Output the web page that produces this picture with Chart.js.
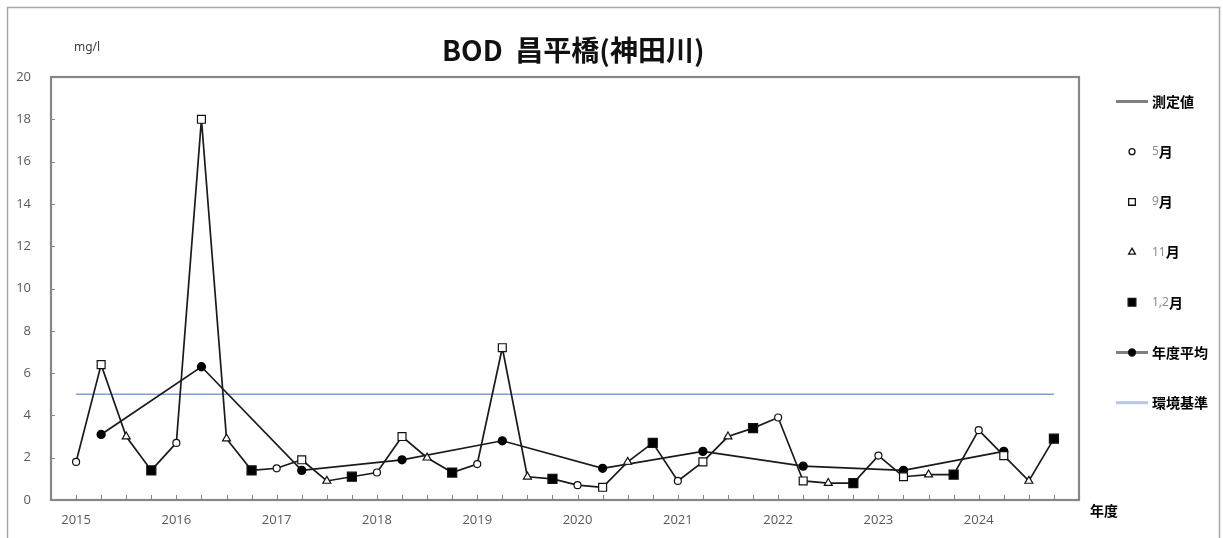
<!DOCTYPE html>
<html lang="ja">
<head>
<meta charset="utf-8">
<title>BOD 昌平橋(神田川)</title>
<script src="https://cdn.jsdelivr.net/npm/chart.js@4.4.1/dist/chart.umd.min.js"></script>
<style>
  html, body { margin: 0; padding: 0; background: #fff; }
  #chart { display: block; }
</style>
</head>
<body>
<canvas id="chart" width="1223" height="538"></canvas>
<script>
// BOD 昌平橋(神田川) - 季節ごとの測定値と年度平均

const years = ['2015', '2016', '2017', '2018', '2019', '2020', '2021', '2022', '2023', '2024'];
const seasonLabels = ['5月', '9月', '11月', '1,2月'];

// mg/l
const may    = [1.8, 2.7, 1.5, 1.3, 1.7, 0.7, 0.9, 3.9, 2.1, 3.3];
const sep    = [6.4, 18.0, 1.9, 3.0, 7.2, 0.6, 1.8, 0.9, 1.1, 2.1];
const nov    = [3.0, 2.9, 0.9, 2.0, 1.1, 1.8, 3.0, 0.8, 1.2, 0.9];
const janFeb = [1.4, 1.4, 1.1, 1.3, 1.0, 2.7, 3.4, 0.8, 1.2, 2.9];
const annualAvg = [3.1, 6.3, 1.4, 1.9, 2.8, 1.5, 2.3, 1.6, 1.4, 2.3];
const envStandard = 5;

const yTicks = [0, 2, 4, 6, 8, 10, 12, 14, 16, 18, 20];

// x = 年度 * 4 + 季節 (0:5月, 1:9月, 2:11月, 3:1,2月)
const seasons = [may, sep, nov, janFeb];
const measured = [];
years.forEach((yr, i) => {
    seasons.forEach((s, j) => measured.push({ x: i * 4 + j, y: s[i] }));
});
const seasonPoints = seasons.map((s, j) => s.map((v, i) => ({ x: i * 4 + j, y: v })));
const avgPoints = annualAvg.map((v, i) => ({ x: i * 4 + 1, y: v }));
const stdPoints = [
    { x: measured[0].x, y: envStandard },
    { x: measured[measured.length - 1].x, y: envStandard }
];

const LINE = '#1a1a1a';
const FRAME = '#868686';
const TICK_TEXT = '#595959';

function markerSet(label, data, style, radius, fill) {
    return {
        label: label,
        data: data,
        showLine: false,
        pointStyle: style,
        pointRadius: radius,
        pointHoverRadius: radius,
        pointBackgroundColor: fill,
        pointBorderColor: '#111',
        pointBorderWidth: 1.2,
        order: 0
    };
}

const datasets = [
    {
        label: '測定値',
        data: measured,
        borderColor: LINE,
        borderWidth: 1.7,
        pointRadius: 0,
        tension: 0,
        legendColor: '#808080',
        order: 1
    },
    markerSet(seasonLabels[0], seasonPoints[0], 'circle', 3.5, '#fff'),
    markerSet(seasonLabels[1], seasonPoints[1], 'rect', 5.6, '#fff'),
    markerSet(seasonLabels[2], seasonPoints[2], 'triangle', 4.6, '#fff'),
    markerSet(seasonLabels[3], seasonPoints[3], 'rect', 6.4, '#000'),
    {
        label: '年度平均',
        data: avgPoints,
        borderColor: LINE,
        borderWidth: 1.7,
        pointStyle: 'circle',
        pointRadius: 3.8,
        pointBackgroundColor: '#000',
        pointBorderColor: '#000',
        legendColor: '#808080',
        order: 0
    },
    {
        label: '環境基準',
        data: stdPoints,
        borderColor: '#7f9fd6',
        borderWidth: 1.5,
        pointRadius: 0,
        legendColor: '#b4c7e7',
        order: 2
    }
];

function drawMarker(ctx, style, x, y, r, fill) {
    ctx.save();
    ctx.fillStyle = fill;
    ctx.strokeStyle = '#111';
    ctx.lineWidth = 1.3;
    ctx.beginPath();
    if (style === 'rect') {
        const s = r * Math.SQRT1_2;
        ctx.rect(x - s, y - s, s * 2, s * 2);
    } else if (style === 'triangle') {
        for (let k = 0; k < 3; k++) {
            const a = k * 2 * Math.PI / 3;
            const px = x + Math.sin(a) * r, py = y - Math.cos(a) * r;
            if (k === 0) ctx.moveTo(px, py); else ctx.lineTo(px, py);
        }
        ctx.closePath();
    } else {
        ctx.arc(x, y, r, 0, Math.PI * 2);
    }
    ctx.fill();
    ctx.stroke();
    ctx.restore();
}

const decorations = {
    id: 'decorations',
    beforeDraw(chart) {
        const ctx = chart.ctx;
        ctx.save();
        ctx.fillStyle = '#fff';
        ctx.fillRect(0, 0, chart.width, chart.height);
        // outer frame
        ctx.strokeStyle = '#a6a6a6';
        ctx.lineWidth = 1.5;
        ctx.beginPath();
        ctx.moveTo(7.5, chart.height + 2);
        ctx.lineTo(7.5, 7.5);
        ctx.lineTo(1219.5, 7.5);
        ctx.lineTo(1219.5, chart.height + 2);
        ctx.stroke();
        ctx.restore();
    },
    afterDraw(chart) {
        const ctx = chart.ctx;
        const area = chart.chartArea;
        const xs = chart.scales.x, ys = chart.scales.y;
        ctx.save();

        // inner ticks
        ctx.strokeStyle = FRAME;
        ctx.lineWidth = 1;
        ctx.beginPath();
        measured.forEach(p => {
            const px = Math.round(xs.getPixelForValue(p.x)) + 0.5;
            ctx.moveTo(px, area.bottom);
            ctx.lineTo(px, area.bottom - 5);
        });
        yTicks.forEach(v => {
            const py = Math.round(ys.getPixelForValue(v)) + 0.5;
            ctx.moveTo(area.left, py);
            ctx.lineTo(area.left + 4, py);
        });
        ctx.stroke();

        // plot frame
        ctx.strokeStyle = FRAME;
        ctx.lineWidth = 2.2;
        ctx.strokeRect(area.left, area.top, area.right - area.left, area.bottom - area.top);

        // title and axis captions
        ctx.fillStyle = '#111';
        ctx.textBaseline = 'middle';
        ctx.textAlign = 'left';
        ctx.font = 'bold 28px "Noto Sans CJK JP"';
        ctx.fillText('BOD  昌平橋(神田川)', 442, 50);
        ctx.font = '12px "Noto Sans"';
        ctx.fillStyle = '#404040';
        ctx.fillText('mg/l', 74, 48);
        ctx.font = 'bold 14px "Noto Sans CJK JP"';
        ctx.fillStyle = '#000';
        ctx.fillText('年度', 1090, 511);

        // legend
        const lx = 1116, tx = 1152;
        chart.data.datasets.forEach((ds, i) => {
            const y = 101.5 + i * 50.2;
            if (ds.showLine === false) {
                drawMarker(ctx, ds.pointStyle, lx + 16, y, ds.pointRadius * 0.85, ds.pointBackgroundColor);
            } else {
                ctx.strokeStyle = ds.legendColor;
                ctx.lineWidth = 3;
                ctx.beginPath();
                ctx.moveTo(lx, y);
                ctx.lineTo(lx + 32, y);
                ctx.stroke();
                if (ds.pointRadius > 0) {
                    drawMarker(ctx, 'circle', lx + 16, y, 3.5, '#000');
                }
            }
            const m = ds.label.match(/^([0-9,]*)(.*)$/);
            let x = tx;
            if (m[1]) {
                ctx.font = '12px "Noto Sans"';
                ctx.fillStyle = '#8c8c8c';
                ctx.fillText(m[1], x, y);
                x += ctx.measureText(m[1]).width;
            }
            ctx.font = 'bold 14px "Noto Sans CJK JP"';
            ctx.fillStyle = '#000';
            ctx.fillText(m[2], x, y);
        });

        ctx.restore();
    }
};

new Chart(document.getElementById('chart'), {
    type: 'line',
    data: { datasets: datasets },
    options: {
        responsive: false,
        animation: false,
        devicePixelRatio: 1,
        layout: { padding: { top: 77, right: 144, bottom: 0, left: 0 } },
        plugins: {
            legend: { display: false },
            title: { display: false },
            tooltip: { enabled: false }
        },
        scales: {
            x: {
                type: 'linear',
                min: -1,
                max: 40,
                afterBuildTicks: s => { s.ticks = years.map((_, i) => ({ value: i * 4 })); },
                afterFit: s => { s.height = 38; },
                ticks: {
                    callback: (v, i) => years[i],
                    autoSkip: false,
                    maxRotation: 0,
                    padding: 12,
                    color: TICK_TEXT,
                    font: { family: '"Open Sans"', size: 13 }
                },
                grid: { display: false, drawTicks: false },
                border: { display: false }
            },
            y: {
                min: 0,
                max: 20,
                afterBuildTicks: s => { s.ticks = yTicks.map(v => ({ value: v })); },
                afterFit: s => { s.width = 51; },
                ticks: {
                    padding: 20,
                    color: TICK_TEXT,
                    font: { family: '"Open Sans"', size: 13 }
                },
                grid: { display: false, drawTicks: false },
                border: { display: false }
            }
        }
    },
    plugins: [decorations]
});
</script>
</body>
</html>
